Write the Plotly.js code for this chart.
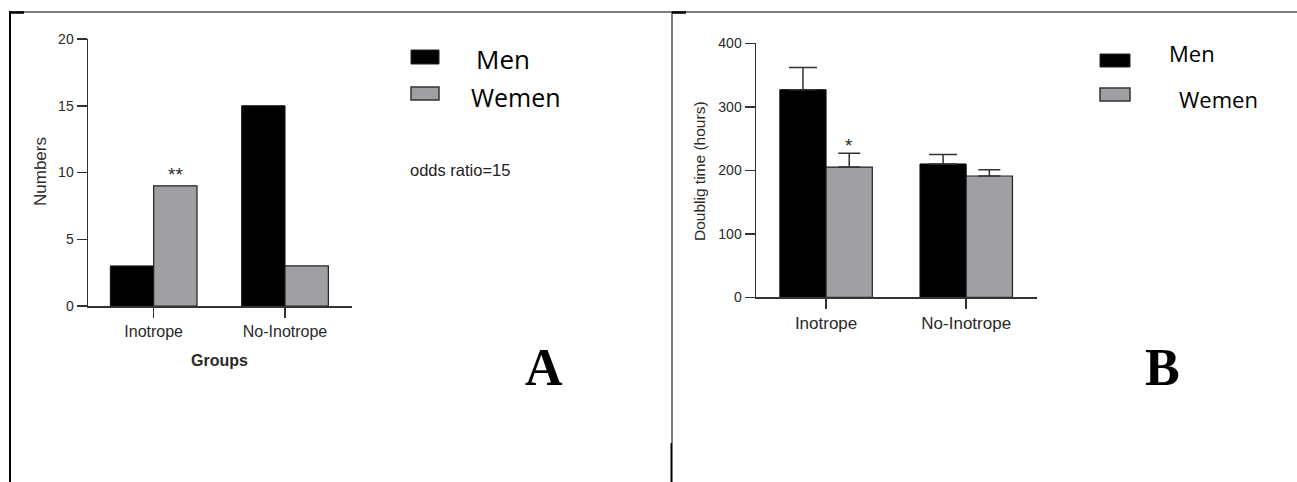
<!DOCTYPE html>
<html>
<head>
<meta charset="utf-8">
<script src="https://cdn.plot.ly/plotly-3.0.1.min.js"></script>
<style>
  html, body { margin: 0; padding: 0; background: #ffffff; }
  #chart { width: 1297px; height: 482px; }
</style>
</head>
<body>
<div id="chart"></div>
<script>
// ---- data ----
const groups = ["Inotrope", "No-Inotrope"];
const seriesNames = ["Men", "Wemen"];
// Panel A: counts
const countsMen = [3, 15];
const countsWomen = [9, 3];
// Panel B: doubling time (hours), mean and upper SEM
const doublingMen = [327, 210];
const doublingWomen = [205, 191];
const doublingMenErr = [35, 15];
const doublingWomenErr = [22, 10];
const countTicks = [0, 5, 10, 15, 20];
const doublingTicks = [0, 100, 200, 300, 400];

// ---- helpers for page-pixel placement of decorations ----
const W = 1297, H = 482;
const px = x => x / W;
const py = y => 1 - y / H;

const BLACK = "#000000";
const GREY = "#a0a0a4";
const AXIS = "#333333";
const TXT = "#2a2a2a";
const FONT = "Liberation Sans, Arial, sans-serif";

const traces = [
  { type: "bar", x: groups, y: countsMen, name: seriesNames[0], xaxis: "x", yaxis: "y",
    marker: { color: BLACK, line: { color: "#111", width: 1 } }, showlegend: false },
  { type: "bar", x: groups, y: countsWomen, name: seriesNames[1], xaxis: "x", yaxis: "y",
    marker: { color: GREY, line: { color: "#222", width: 1.2 } }, showlegend: false },
  { type: "bar", x: groups, y: doublingMen, name: seriesNames[0], xaxis: "x2", yaxis: "y2",
    marker: { color: BLACK, line: { color: "#111", width: 1 } }, showlegend: false,
    error_y: { type: "data", symmetric: false, array: doublingMenErr, arrayminus: [0, 0],
               color: AXIS, thickness: 1.5, width: 14 } },
  { type: "bar", x: groups, y: doublingWomen, name: seriesNames[1], xaxis: "x2", yaxis: "y2",
    marker: { color: GREY, line: { color: "#222", width: 1.2 } }, showlegend: false,
    error_y: { type: "data", symmetric: false, array: doublingWomenErr, arrayminus: [0, 0],
               color: AXIS, thickness: 1.5, width: 11 } }
];

const axisCommon = {
  showgrid: false, zeroline: false, showline: true, linecolor: AXIS, linewidth: 1.5,
  ticks: "outside", ticklen: 10, tickwidth: 1.5, tickcolor: AXIS,
  tickfont: { family: FONT, size: 14, color: TXT }, fixedrange: true
};

const layout = {
  width: W, height: H,
  margin: { l: 0, r: 0, t: 0, b: 0 },
  paper_bgcolor: "#ffffff", plot_bgcolor: "rgba(0,0,0,0)",
  barmode: "group", bargap: 0.34, bargroupgap: 0,
  showlegend: false,
  xaxis: Object.assign({}, axisCommon, { anchor: "y", domain: [px(88), px(352)], range: [-0.5, 1.51], type: "category",
    tickfont: { family: FONT, size: 16, color: TXT } }),
  yaxis: Object.assign({}, axisCommon, { anchor: "x", domain: [py(306), py(39)], range: [0, 20], tickvals: countTicks }),
  xaxis2: Object.assign({}, axisCommon, { anchor: "y2", domain: [px(756), px(1037)], range: [-0.5, 1.505], type: "category",
    tickfont: { family: FONT, size: 17, color: TXT } }),
  yaxis2: Object.assign({}, axisCommon, { anchor: "x2", domain: [py(297.3), py(43.3)], range: [0, 400], tickvals: doublingTicks }),
  shapes: [
    // frame lines
    { type: "line", xref: "paper", yref: "paper", x0: px(10), x1: px(1297), y0: py(12), y1: py(12), line: { color: "#000", width: 1.2 } },
    { type: "line", xref: "paper", yref: "paper", x0: px(10), x1: px(10), y0: py(11), y1: py(482), line: { color: "#000", width: 2 } },
    { type: "line", xref: "paper", yref: "paper", x0: px(672), x1: px(672), y0: py(12), y1: py(443), line: { color: "#000", width: 1 } },
    { type: "line", xref: "paper", yref: "paper", x0: px(671.5), x1: px(671.5), y0: py(443), y1: py(482), line: { color: "#000", width: 2 } },
    { type: "line", xref: "paper", yref: "paper", x0: px(10), x1: px(24), y0: py(12.5), y1: py(12.5), line: { color: "#000", width: 2.5 } },
    { type: "line", xref: "paper", yref: "paper", x0: px(672), x1: px(686), y0: py(12.5), y1: py(12.5), line: { color: "#000", width: 2.5 } },
    // legend swatches A
    { type: "rect", xref: "paper", yref: "paper", x0: px(411), x1: px(439), y0: py(64), y1: py(50), fillcolor: BLACK, line: { color: "#222", width: 1 } },
    { type: "rect", xref: "paper", yref: "paper", x0: px(411), x1: px(439), y0: py(100), y1: py(87), fillcolor: GREY, line: { color: "#333", width: 1.5 } },
    // legend swatches B
    { type: "rect", xref: "paper", yref: "paper", x0: px(1100), x1: px(1130), y0: py(67), y1: py(54), fillcolor: BLACK, line: { color: "#222", width: 1 } },
    { type: "rect", xref: "paper", yref: "paper", x0: px(1100), x1: px(1130), y0: py(101), y1: py(88), fillcolor: GREY, line: { color: "#333", width: 1.5 } }
  ],
  annotations: [
    // axis titles
    { text: "Numbers", xref: "paper", yref: "paper", x: px(40), y: py(172), textangle: -90, showarrow: false,
      font: { family: FONT, size: 17, color: TXT }, xanchor: "center", yanchor: "middle" },
    { text: "<b>Groups</b>", xref: "paper", yref: "paper", x: px(219), y: py(360), showarrow: false,
      font: { family: FONT, size: 16, color: TXT }, xanchor: "center", yanchor: "middle" },
    { text: "Doublig time (hours)", xref: "paper", yref: "paper", x: px(699), y: py(171), textangle: -90, showarrow: false,
      font: { family: FONT, size: 15.5, color: TXT }, xanchor: "center", yanchor: "middle" },
    // significance marks
    { text: "**", xref: "x", yref: "paper", x: groups[0], xshift: 22, y: py(174), showarrow: false,
      font: { family: FONT, size: 19, color: TXT }, xanchor: "center", yanchor: "middle" },
    { text: "*", xref: "x2", yref: "paper", x: groups[0], xshift: 23, y: py(145), showarrow: false,
      font: { family: FONT, size: 19, color: TXT }, xanchor: "center", yanchor: "middle" },
    // legend text A
    { text: "Men", xref: "paper", yref: "paper", x: px(474), y: py(59), showarrow: false,
      font: { family: "Open Sans, sans-serif", size: 26, color: "#000" }, xanchor: "left", yanchor: "middle" },
    { text: "Wemen", xref: "paper", yref: "paper", x: px(469), y: py(97), showarrow: false,
      font: { family: "Open Sans, sans-serif", size: 25, color: "#000" }, xanchor: "left", yanchor: "middle" },
    { text: "odds ratio=15", xref: "paper", yref: "paper", x: px(408), y: py(170), showarrow: false,
      font: { family: FONT, size: 16.5, color: "#222" }, xanchor: "left", yanchor: "middle" },
    // legend text B
    { text: "Men", xref: "paper", yref: "paper", x: px(1167), y: py(53), showarrow: false,
      font: { family: "Open Sans, sans-serif", size: 22, color: "#000" }, xanchor: "left", yanchor: "middle" },
    { text: "Wemen", xref: "paper", yref: "paper", x: px(1177), y: py(99), showarrow: false,
      font: { family: "Open Sans, sans-serif", size: 22, color: "#000" }, xanchor: "left", yanchor: "middle" },
    // panel letters
    { text: "<b>A</b>", xref: "paper", yref: "paper", x: px(544), y: py(367), showarrow: false,
      font: { family: "Liberation Serif, Times New Roman, serif", size: 52, color: "#000" }, xanchor: "center", yanchor: "middle" },
    { text: "<b>B</b>", xref: "paper", yref: "paper", x: px(1162), y: py(367), showarrow: false,
      font: { family: "Liberation Serif, Times New Roman, serif", size: 52, color: "#000" }, xanchor: "center", yanchor: "middle" }
  ]
};

Plotly.newPlot("chart", traces, layout, { displayModeBar: false, staticPlot: true });
</script>
</body>
</html>
